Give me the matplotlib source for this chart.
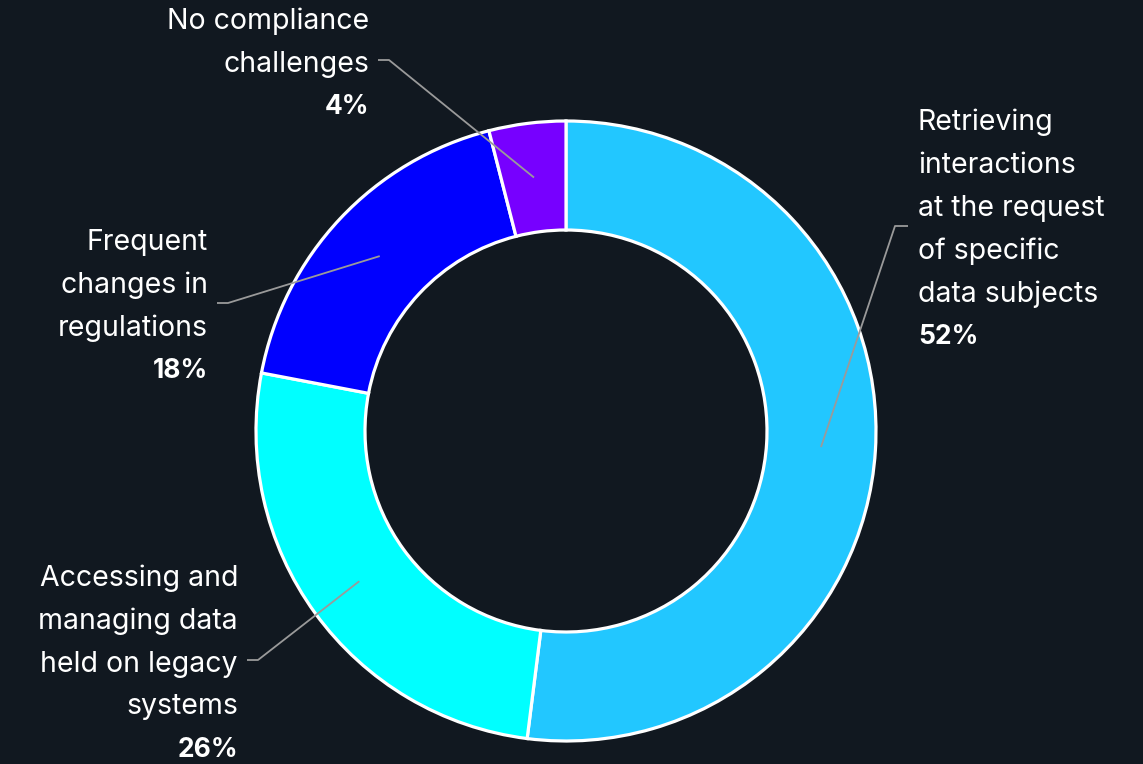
import numpy as np
import matplotlib.pyplot as plt

labels = ["Retrieving\ninteractions\nat the request\nof specific\ndata subjects",
          "Accessing and\nmanaging data\nheld on legacy\nsystems",
          "Frequent\nchanges in\nregulations",
          "No compliance\nchallenges"]
values = [52, 26, 18, 4]
colors = ["#22C7FF", "#00FFFF", "#0000FF", "#7700FF"]

# leader elbow positions (pixels, y up) and which side the text sits on
elbows = [(895, 538), (258, 104), (228, 461), (389, 704)]
sides = ["right", "left", "left", "left"]

bg = "#111820"
W, H = 1143, 764
cx, cy, R, ring = 566, 333, 310, 109

plt.rcParams["font.family"] = ["Inter", "DejaVu Sans"]

fig = plt.figure(figsize=(W / 100, H / 100), dpi=100, facecolor=bg)
ax = fig.add_axes([0, 0, 1, 1])
ax.set_facecolor(bg)

wedges, _ = ax.pie(values, colors=colors, startangle=90, counterclock=False,
                   center=(cx, cy), radius=R, frame=True,
                   wedgeprops=dict(width=ring, edgecolor="white", linewidth=2.3))
ax.set_xlim(0, W)
ax.set_ylim(0, H)
ax.set_aspect("equal")
ax.axis("off")

step = 43
for w, lab, val, (ex, ey), side in zip(wedges, labels, values, elbows, sides):
    mid = np.deg2rad((w.theta1 + w.theta2) / 2)
    rm = R - ring / 2
    sx, sy = cx + rm * np.cos(mid), cy + rm * np.sin(mid)
    d = 13 if side == "right" else -11
    ax.plot([sx, ex, ex + d], [sy, ey, ey], color="#9a9a9a", lw=1.3,
            solid_capstyle="butt", zorder=5)
    tx = ex + d + (10 if side == "right" else -9)
    ha = "left" if side == "right" else "right"
    lines = lab.split("\n") + [f"{val}%"]
    n = len(lines)
    yc = ey - 4
    for i, ln in enumerate(lines):
        y = yc + ((n - 1) / 2 - i) * step
        if i == n - 1:
            ax.text(tx, y, ln, ha=ha, va="center", color="white",
                    fontsize=19, fontweight="bold")
        else:
            ax.text(tx, y, ln, ha=ha, va="center", color="white", fontsize=20.5)

fig.savefig("out.png", dpi=100, facecolor=bg)
